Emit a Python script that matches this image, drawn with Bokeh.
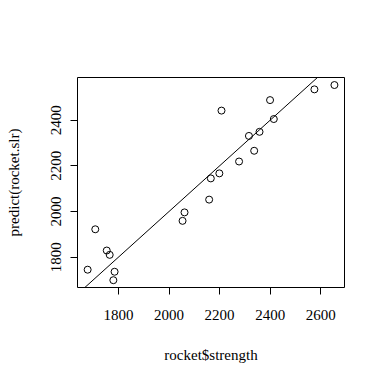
from bokeh.plotting import figure
from bokeh.models import FixedTicker, Slope, Range1d
from bokeh.embed import file_html
from bokeh.resources import INLINE

strength = [2158.70, 1678.15, 2316.00, 2061.30, 2207.50, 1708.30, 1784.70, 2575.00,
            2357.90, 2277.00, 2165.20, 2399.55, 1779.80, 2336.75, 1765.30, 2053.50,
            2414.40, 2199.00, 2654.20, 1753.70]
predicted = [2052, 1745, 2331, 1996, 2442, 1922, 1736, 2535,
             2349, 2219, 2145, 2488, 1699, 2266, 1810, 1959,
             2405, 2167, 2554, 1829]
x_ticks = [1800, 2000, 2200, 2400, 2600]
y_ticks = [1800, 2000, 2200, 2400]

FONT = "Liberation Serif"

p = figure(width=384, height=383, output_backend="svg", toolbar_location=None,
           x_range=Range1d(1638, 2694), y_range=Range1d(1667, 2587),
           min_border_left=77, min_border_right=40, min_border_top=77, min_border_bottom=96,
           frame_width=267, frame_height=210)
p.background_fill_color = "white"
p.border_fill_color = "white"
p.outline_line_color = "black"
p.outline_line_width = 1
p.grid.visible = False

p.scatter(strength, predicted, size=7, fill_color=None, line_color="black", line_width=1)
p.add_layout(Slope(gradient=1, y_intercept=0, line_color="black", line_width=1))

for ax in (p.xaxis[0], p.yaxis[0]):
    ax.axis_line_color = None
    ax.major_tick_in = 0
    ax.major_tick_out = 7
    ax.major_tick_line_color = "black"
    ax.minor_tick_line_color = None
    ax.major_label_text_font = FONT
    ax.major_label_text_font_size = "15px"
    ax.major_label_text_color = "black"
    ax.axis_label_text_font = FONT
    ax.axis_label_text_font_size = "15px"
    ax.axis_label_text_font_style = "normal"
    ax.axis_label_text_color = "black"

p.xaxis.ticker = FixedTicker(ticks=x_ticks)
p.yaxis.ticker = FixedTicker(ticks=y_ticks)
p.xaxis.axis_label = "rocket$strength"
p.yaxis.axis_label = "predict(rocket.slr)"
p.yaxis.major_label_orientation = "vertical"
p.xaxis.major_label_standoff = 15
p.xaxis.axis_label_standoff = 24
p.yaxis.major_label_standoff = 9
p.yaxis.axis_label_standoff = 27

open("out.html", "w").write(file_html(p, INLINE))
